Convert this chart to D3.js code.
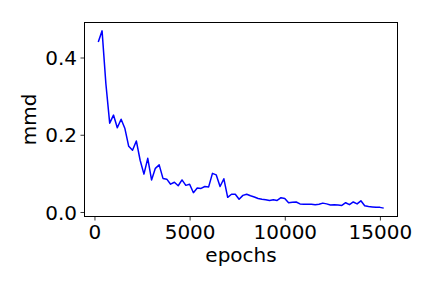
<!DOCTYPE html>
<html>
<head>
<meta charset="utf-8">
<script src="https://cdn.jsdelivr.net/npm/d3@7"></script>
<style>
  body { margin: 0; background: #fff; }
  svg { display: block; }
  svg text { font-family: "DejaVu Sans", sans-serif; font-size: 20px; fill: #000; }
</style>
</head>
<body>
<div id="chart"></div>
<script>
// data (one point every 200 epochs)
const epochs = d3.range(200, 15201, 200);
const mmd = [
  0.440, 0.469, 0.332, 0.230, 0.251, 0.218, 0.240, 0.216, 0.170, 0.160,
  0.184, 0.134, 0.098, 0.139, 0.083, 0.113, 0.122, 0.087, 0.085, 0.072,
  0.077, 0.068, 0.083, 0.069, 0.072, 0.050, 0.062, 0.061, 0.066, 0.065,
  0.100, 0.096, 0.066, 0.086, 0.038, 0.046, 0.046, 0.033, 0.043, 0.046,
  0.042, 0.039, 0.035, 0.033, 0.032, 0.030, 0.032, 0.030, 0.037, 0.035,
  0.024, 0.025, 0.026, 0.021, 0.020, 0.020, 0.020, 0.019, 0.020, 0.023,
  0.021, 0.018, 0.019, 0.018, 0.017, 0.024, 0.019, 0.026, 0.021, 0.029,
  0.016, 0.014, 0.013, 0.012, 0.012, 0.010
];
const xTicks = [0, 5000, 10000, 15000];
const yTicks = [0.0, 0.2, 0.4];

const width = 432;
const height = 288;
const margin = { top: 22, right: 34, bottom: 71, left: 84 };

const svg = d3.select("#chart").append("svg")
  .attr("width", width)
  .attr("height", height);

// matplotlib style 5% padding around the data
const xPad = (d3.max(epochs) - d3.min(epochs)) * 0.05;
const yPad = (d3.max(mmd) - d3.min(mmd)) * 0.05;

const x = d3.scaleLinear()
  .domain([d3.min(epochs) - xPad, d3.max(epochs) + xPad])
  .range([margin.left, width - margin.right]);

const y = d3.scaleLinear()
  .domain([d3.min(mmd) - yPad, d3.max(mmd) + yPad])
  .range([height - margin.bottom, margin.top]);

const xAxis = d3.axisBottom(x)
  .tickValues(xTicks)
  .tickFormat(d3.format("d"))
  .tickSize(3.5)
  .tickPadding(3.5)
  .tickSizeOuter(0);

const yAxis = d3.axisLeft(y)
  .tickValues(yTicks)
  .tickFormat(d3.format(".1f"))
  .tickSize(3.5)
  .tickPadding(3.5)
  .tickSizeOuter(0);

const gx = svg.append("g")
  .attr("transform", `translate(0, ${height - margin.bottom})`)
  .call(xAxis)
  .attr("font-family", null)
  .attr("font-size", null);
gx.select(".domain").remove();
gx.selectAll(".tick line").attr("stroke", "#000").attr("stroke-width", 0.8);
gx.selectAll(".tick text").attr("y", 22).attr("dy", 0);

const gy = svg.append("g")
  .attr("transform", `translate(${margin.left}, 0)`)
  .call(yAxis)
  .attr("font-family", null)
  .attr("font-size", null);
gy.select(".domain").remove();
gy.selectAll(".tick line").attr("stroke", "#000").attr("stroke-width", 0.8);
gy.selectAll(".tick text").attr("dy", "0.36em");

// line
const line = d3.line()
  .x((d, i) => x(epochs[i]))
  .y((d) => y(d));

svg.append("path")
  .datum(mmd)
  .attr("fill", "none")
  .attr("stroke", "#0000ff")
  .attr("stroke-width", 1.5)
  .attr("stroke-linejoin", "round")
  .attr("d", line);

// frame
svg.append("rect")
  .attr("x", margin.left + 0.5)
  .attr("y", margin.top + 0.5)
  .attr("width", width - margin.left - margin.right - 1)
  .attr("height", height - margin.top - margin.bottom - 1)
  .attr("fill", "none")
  .attr("stroke", "#000")
  .attr("stroke-width", 1);

// labels
svg.append("text")
  .attr("x", (margin.left + width - margin.right) / 2)
  .attr("y", 261.5)
  .attr("text-anchor", "middle")
  .text("epochs");

svg.append("text")
  .attr("transform", `translate(36, ${(margin.top + height - margin.bottom) / 2}) rotate(-90)`)
  .attr("text-anchor", "middle")
  .text("mmd");
</script>
</body>
</html>
